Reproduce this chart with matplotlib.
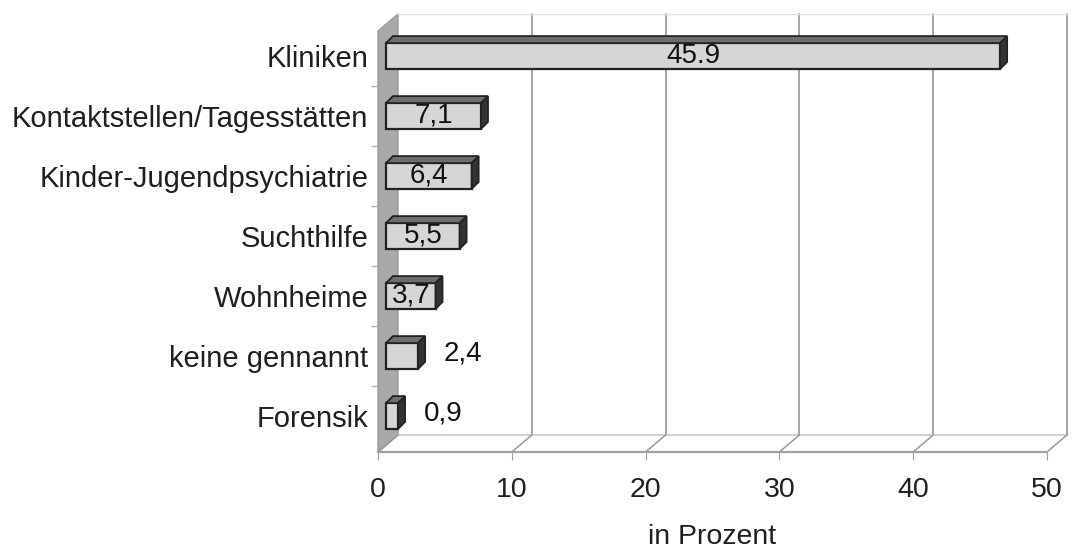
import matplotlib
matplotlib.use("Agg")
import matplotlib.pyplot as plt
from matplotlib.patches import Polygon

# ---- data ----
categories = ["Kliniken", "Kontaktstellen/Tagesstätten", "Kinder-Jugendpsychiatrie",
              "Suchthilfe", "Wohnheime", "keine gennannt", "Forensik"]
values = [45.9, 7.1, 6.4, 5.5, 3.7, 2.4, 0.9]
value_labels = ["45.9", "7,1", "6,4", "5,5", "3,7", "2,4", "0,9"]
label_inside = [True, True, True, True, True, False, False]
x_ticks = [0, 10, 20, 30, 40, 50]
x_label = "in Prozent"

plt.rcParams['font.family'] = ['Liberation Sans', 'DejaVu Sans']
TXT = "#1e1e1e"

fig = plt.figure(figsize=(10.74, 5.54), dpi=100)
W, H = 1074, 554
ax_l, ax_r, ax_t, ax_b = 378, 1047, 14, 452
ax = fig.add_axes([ax_l / W, (H - ax_b) / H, (ax_r - ax_l) / W, (ax_b - ax_t) / H])

xmax = 50
ytop, ybot = -0.7, 6.6
ax.set_xlim(0, xmax)
ax.set_ylim(ybot, ytop)

px_x = (ax_r - ax_l) / xmax          # pixels per x unit
px_y = (ax_b - ax_t) / (ybot - ytop)  # pixels per category unit

# depth of the 3D box
wdx = 20 / px_x
wdy = 17 / px_y

# left wall
ax.add_patch(Polygon([(0, ybot), (0, ytop + wdy), (wdx, ytop), (wdx, ybot - wdy)],
                     closed=True, facecolor="#a9a9a9", edgecolor="#9a9a9a", lw=1,
                     zorder=1, clip_on=False))
# back wall gridlines
for v in x_ticks[1:]:
    ax.plot([v + wdx, v + wdx], [ybot - wdy, ytop], color="#8c8c8c", lw=1.1,
            zorder=1, clip_on=False)
ax.plot([wdx, xmax + wdx], [ytop, ytop], color="#e4e4e4", lw=1, zorder=1, clip_on=False)
# floor
ax.plot([wdx, xmax + wdx], [ybot - wdy, ybot - wdy], color="#c8c8c8", lw=1.2,
        zorder=1, clip_on=False)
for v in x_ticks:
    ax.plot([v, v + wdx], [ybot, ybot - wdy], color="#9a9a9a", lw=1.1,
            zorder=1, clip_on=False)

# bars
ypos = list(range(len(categories)))
bh = 0.43
left = 8 / px_x
bdx = 7 / px_x
bdy = 7 / px_y
ax.barh(ypos, values, left=left, height=bh, color="#d6d6d6", edgecolor="#222222",
        lw=1.6, zorder=3)
for y, v in zip(ypos, values):
    top = y - bh / 2
    bot = y + bh / 2
    x1 = left + v
    ax.add_patch(Polygon([(left, top), (x1, top), (x1 + bdx, top - bdy), (left + bdx, top - bdy)],
                         closed=True, facecolor="#6e6e6e", edgecolor="#222222", lw=1.3,
                         zorder=3, clip_on=False))
    ax.add_patch(Polygon([(x1, top), (x1, bot), (x1 + bdx, bot - bdy), (x1 + bdx, top - bdy)],
                         closed=True, facecolor="#333333", edgecolor="#222222", lw=1.3,
                         zorder=3, clip_on=False))

for y, v, lab, inside in zip(ypos, values, value_labels, label_inside):
    if inside:
        ax.text(left + v / 2, y, lab, ha="center", va="center", fontsize=20,
                color="#111111", zorder=5)
    else:
        ax.text(left + v + 1.9, y - 0.05, lab, ha="left", va="center", fontsize=20,
                color="#111111", zorder=5)

# axes styling
for s in ["top", "right", "left"]:
    ax.spines[s].set_visible(False)
ax.spines["bottom"].set_color("#a0a0a0")
ax.spines["bottom"].set_linewidth(1.6)
ax.spines["bottom"].set_zorder(2)

ax.set_xticks(x_ticks)
ax.set_xticklabels([str(t) for t in x_ticks])
ax.tick_params(axis="x", length=6, color="#a0a0a0", labelsize=20.5, labelcolor=TXT, pad=12)

ax.set_yticks(ypos)
ax.set_yticklabels(categories)
ax.tick_params(axis="y", length=0, labelsize=21, labelcolor=TXT, pad=7)
ax.set_yticks([y + 0.5 for y in ypos[:-1]], minor=True)
ax.tick_params(axis="y", which="minor", length=5, color="#b0b0b0", width=1)

ax.set_xlabel(x_label, fontsize=20.5, color=TXT, labelpad=15)
ax.set_facecolor("none")

fig.savefig("out.png", dpi=100)
